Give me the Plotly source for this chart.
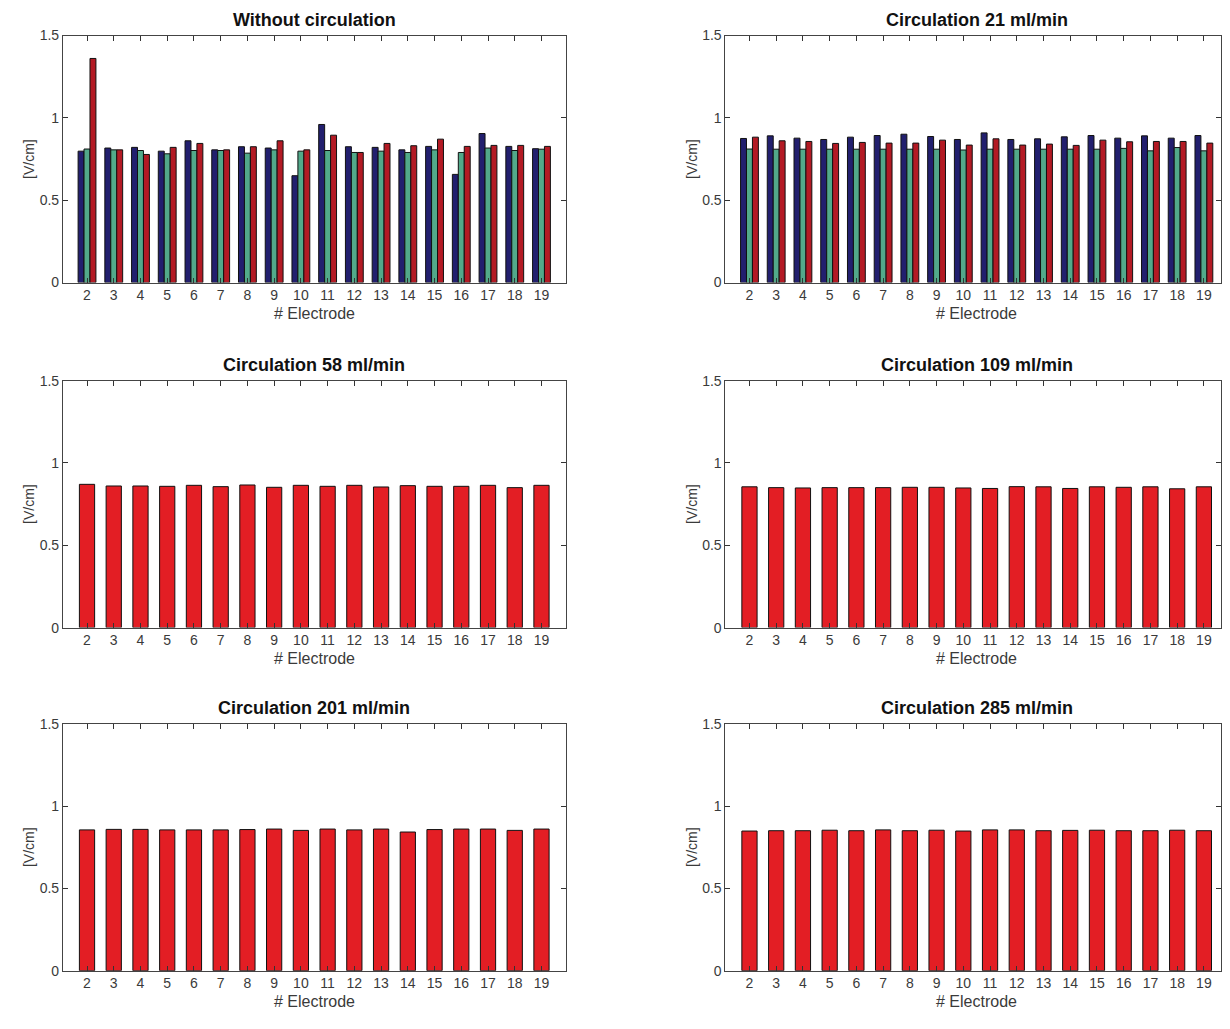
import plotly.graph_objects as go

electrodes = list(range(2, 20))

# Without circulation (three series)
wo_s1 = [0.798, 0.817, 0.821, 0.798, 0.861, 0.806, 0.825, 0.817, 0.649, 0.960, 0.825, 0.821, 0.806, 0.827, 0.657, 0.905, 0.827, 0.813]
wo_s2 = [0.811, 0.806, 0.802, 0.782, 0.802, 0.802, 0.786, 0.806, 0.798, 0.802, 0.790, 0.798, 0.790, 0.806, 0.790, 0.817, 0.802, 0.810]
wo_s3 = [1.361, 0.806, 0.778, 0.821, 0.845, 0.806, 0.825, 0.861, 0.806, 0.895, 0.790, 0.845, 0.831, 0.871, 0.827, 0.833, 0.833, 0.827]

# Circulation 21 ml/min (three series)
c21_s1 = [0.875, 0.891, 0.877, 0.869, 0.883, 0.893, 0.901, 0.887, 0.869, 0.909, 0.869, 0.873, 0.885, 0.893, 0.877, 0.891, 0.877, 0.893]
c21_s2 = [0.811, 0.810, 0.810, 0.810, 0.810, 0.810, 0.810, 0.810, 0.805, 0.810, 0.810, 0.810, 0.810, 0.810, 0.815, 0.800, 0.820, 0.800]
c21_s3 = [0.883, 0.861, 0.857, 0.845, 0.851, 0.847, 0.847, 0.865, 0.835, 0.873, 0.835, 0.841, 0.833, 0.865, 0.855, 0.857, 0.857, 0.847]

c58 = [0.870, 0.860, 0.860, 0.858, 0.864, 0.856, 0.866, 0.852, 0.864, 0.858, 0.864, 0.854, 0.862, 0.858, 0.858, 0.864, 0.850, 0.864]
c109 = [0.855, 0.850, 0.848, 0.850, 0.850, 0.850, 0.852, 0.852, 0.848, 0.845, 0.856, 0.855, 0.845, 0.855, 0.852, 0.855, 0.843, 0.855]
c201 = [0.855, 0.858, 0.858, 0.855, 0.855, 0.855, 0.857, 0.860, 0.852, 0.860, 0.855, 0.860, 0.842, 0.857, 0.860, 0.860, 0.852, 0.860]
c285 = [0.848, 0.850, 0.850, 0.853, 0.850, 0.855, 0.850, 0.853, 0.848, 0.855, 0.855, 0.850, 0.852, 0.853, 0.850, 0.850, 0.853, 0.850]

titles = ["Without circulation", "Circulation 21 ml/min", "Circulation 58 ml/min",
          "Circulation 109 ml/min", "Circulation 201 ml/min", "Circulation 285 ml/min"]
ytick_vals = [0, 0.5, 1, 1.5]
ytick_text = ["0", "0.5", "1", "1.5"]

# page offset / vertical scaling observed in the rendered screenshot
PAD = 8
W, H = 1230 - 2 * PAD, 1029 - 2 * PAD


def fy(t):
    # compress the reference layout slightly so the bottom label stays visible
    t = 34 + (t - 34) * 0.98
    return (t - 16.4) / 0.984


col_px = [(63 - PAD, 566 - PAD), (726 - PAD, 1222 - PAD)]
col_range = [[1.1, 19.9], [1.1, 19.64]]
row_px = [(fy(36), fy(288)), (fy(388), fy(640)), (fy(738), fy(990))]

group_colors = ["#221f6e", "#52a98a", "#b31a24"]
single_color = "#e31e24"

fig = go.Figure()
FONT = "Liberation Sans, Arial, Helvetica, sans-serif"
TXT = "#3a3a3a"

panels = [
    [wo_s1, wo_s2, wo_s3],
    [c21_s1, c21_s2, c21_s3],
    [c58], [c109], [c201], [c285],
]

for i, series in enumerate(panels):
    r, c = divmod(i, 2)
    ax = "" if i == 0 else str(i + 1)
    xref, yref = "x" + ax, "y" + ax
    if len(series) == 3:
        bw = 0.667 / 3
        for k, vals in enumerate(series):
            fig.add_trace(go.Bar(
                x=electrodes, y=vals, xaxis=xref, yaxis=yref,
                width=bw, offset=-0.3335 + k * bw,
                marker=dict(color=group_colors[k], line=dict(color="#111", width=1)),
                showlegend=False))
    else:
        fig.add_trace(go.Bar(
            x=electrodes, y=series[0], xaxis=xref, yaxis=yref,
            width=0.57, offset=-0.285,
            marker=dict(color=single_color, line=dict(color="#111", width=1)),
            showlegend=False))

    x0, x1 = col_px[c]
    y0, y1 = row_px[r]
    xd = [x0 / W, min(1.0, x1 / W)]
    yd = [1 - y1 / H, 1 - y0 / H]
    xc = (x0 + 251.5) / W
    fig.layout["xaxis" + ax] = dict(
        domain=xd, anchor=yref, range=col_range[c],
        tickvals=electrodes, ticktext=[str(e) for e in electrodes],
        ticks="inside", ticklen=5, tickcolor="#333", mirror="ticks",
        showline=True, linecolor="#444", linewidth=1, showgrid=False, zeroline=False,
        tickfont=dict(size=14, color=TXT, family=FONT),
    )
    fig.layout["yaxis" + ax] = dict(
        domain=yd, anchor=xref, range=[0, 1.5],
        tickvals=ytick_vals, ticktext=ytick_text,
        ticks="inside", ticklen=5, tickcolor="#333", mirror="ticks",
        showline=True, linecolor="#444", linewidth=1, showgrid=False, zeroline=False,
        tickfont=dict(size=14, color=TXT, family=FONT),
        title=dict(text="[V/cm]", standoff=1, font=dict(size=14, color=TXT, family=FONT)),
    )
    fig.add_annotation(
        x=xc, y=yd[1], xref="paper", yref="paper",
        text="<b>" + titles[i] + "</b>", showarrow=False,
        xanchor="center", yanchor="bottom", yshift=4,
        font=dict(size=18, color="#111", family=FONT))
    fig.add_annotation(
        x=xc, y=yd[0], xref="paper", yref="paper",
        text="# Electrode", showarrow=False,
        xanchor="center", yanchor="middle", yshift=-31,
        font=dict(size=16, color=TXT, family=FONT))

fig.update_layout(
    width=W, height=H, margin=dict(l=0, r=0, t=0, b=0),
    paper_bgcolor="white", plot_bgcolor="white", barmode="overlay",
)

fig.write_html("out.html")
